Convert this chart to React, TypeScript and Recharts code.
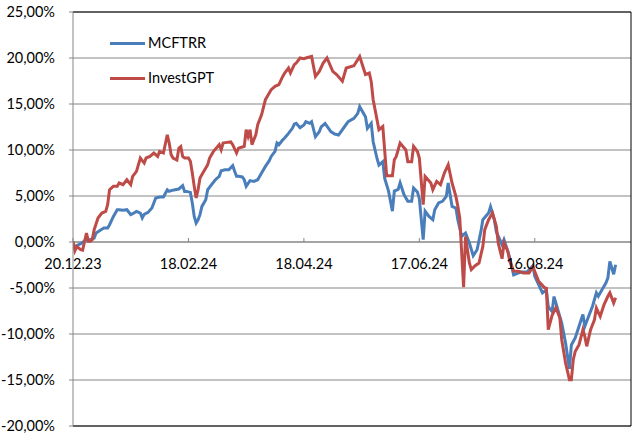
import { CartesianGrid, Line, LineChart, ReferenceLine, XAxis, YAxis } from "recharts";

// days since 20.12.23
const blueDays = [
  0, 2, 4, 5, 7, 9, 11, 12, 14, 16, 18, 19, 21, 23, 24, 26, 28, 30, 31, 33, 35, 36, 37, 39, 41, 43,
  45, 47, 49, 50, 51, 53, 55, 57, 58, 59, 61, 62, 63, 64, 65, 66, 67, 69, 70, 72, 74, 76, 77, 79,
  81, 83, 84, 85, 86, 88, 89, 90, 92, 94, 96, 98, 100, 102, 103, 105, 106, 107, 109, 110, 112, 114,
  115, 116, 118, 120, 121, 123, 124, 126, 128, 129, 131, 134, 136, 138, 141, 143, 146, 148, 149,
  152, 153, 155, 156, 158, 159, 161, 162, 164, 166, 167, 169, 170, 172, 174, 176, 177, 179, 180,
  182, 183, 185, 187, 188, 190, 192, 194, 195, 197, 199, 200, 202, 204, 206, 208, 210, 212, 213,
  216, 217, 219, 220, 223, 224, 226, 227, 229, 231, 233, 236, 239, 240, 242, 244, 246, 247, 249,
  250, 252, 254, 256, 258, 259, 261, 263, 265, 266, 268, 270, 272, 273, 275, 277, 278, 279, 281, 282,
];
const blueValues = [
  -0.48, -0.4, -0.18, -0.04, 0.25, 0.25, 0.43, 0.98, 1.26, 1.52, 1.52, 1.88, 2.78, 3.51, 3.51, 3.44,
  3.51, 2.97, 3.08, 3.33, 3.15, 2.61, 3.0, 3.22, 3.7, 4.78, 4.89, 4.89, 5.68, 5.5, 5.58, 5.68, 5.76,
  6.12, 5.5, 5.5, 5.39, 4.23, 2.78, 2.06, 2.42, 2.97, 3.87, 4.6, 5.68, 6.23, 6.77, 7.13, 7.75, 7.86,
  7.86, 8.3, 7.68, 7.14, 7.14, 7.07, 6.77, 6.05, 6.67, 6.59, 6.77, 7.5, 8.22, 8.84, 9.3, 9.85, 10.75,
  10.57, 11.1, 11.3, 11.81, 12.36, 12.8, 12.9, 12.43, 12.72, 13.08, 12.9, 13.08, 11.44, 11.98, 12.52,
  12.88, 12.0, 11.74, 11.63, 12.5, 13.08, 13.44, 13.98, 14.71, 13.62, 12.35, 12.9, 10.9, 9.08, 8.36,
  8.73, 6.91, 5.53, 3.35, 5.53, 5.71, 6.43, 5.16, 4.42, 4.42, 5.87, 5.43, 4.71, 0.25, 3.35, 2.78,
  2.42, 3.51, 4.24, 4.42, 4.96, 6.41, 3.87, 3.69, 2.42, 0.61, 0.98, -0.11, -1.49, -0.84, 1.15, 2.42,
  3.15, 3.83, 2.42, 1.12, -0.3, 0.25, -1.02, -1.74, -3.58, -3.4, -3.26, -3.26, -2.58, -3.73, -4.63,
  -5.53, -5.2, -7.02, -7.56, -5.93, -7.37, -8.81, -10.98, -13.78, -11.2, -10.43, -9.16, -7.88, -9.16,
  -8.07, -6.98, -5.53, -5.9, -5.16, -4.43, -3.89, -2.11, -3.51, -2.47,
];

const redDays = [
  0, 1, 2, 4, 5, 7, 8, 9, 10, 11, 13, 15, 17, 18, 19, 21, 23, 24, 26, 28, 30, 31, 33, 35, 37, 38,
  40, 42, 44, 45, 47, 49, 50, 51, 52, 54, 55, 56, 57, 58, 60, 61, 62, 63, 64, 65, 66, 68, 70, 71, 73,
  75, 76, 77, 78, 80, 82, 83, 85, 86, 88, 89, 90, 91, 92, 93, 95, 96, 98, 100, 102, 103, 105, 107,
  109, 110, 112, 113, 115, 116, 118, 120, 121, 124, 126, 128, 130, 132, 135, 137, 140, 142, 146,
  149, 152, 154, 155, 156, 158, 159, 161, 162, 163, 166, 167, 168, 170, 173, 174, 176, 177, 179,
  180, 182, 183, 186, 187, 189, 191, 193, 195, 197, 199, 200, 201, 203, 204, 206, 207, 209, 211,
  213, 214, 216, 218, 220, 221, 223, 224, 226, 227, 229, 232, 234, 237, 239, 240, 242, 245, 246,
  247, 249, 251, 253, 254, 256, 258, 259, 260, 261, 263, 265, 266, 267, 269, 271, 272, 274, 276, 278,
  279, 281, 282,
];
const redValues = [
  0.07, -0.95, -0.51, -0.84, -0.89, 0.98, 0.07, 0.07, 0.25, 1.34, 2.61, 3.15, 3.33, 4.05, 5.68, 6.05,
  6.05, 6.41, 6.23, 6.77, 6.23, 7.13, 7.68, 9.13, 8.58, 9.13, 9.3, 9.67, 9.3, 9.84, 9.67, 11.66, 10.75,
  9.49, 9.13, 8.91, 10.2, 10.38, 9.3, 9.13, 9.13, 8.77, 7.5, 6.05, 4.78, 5.68, 6.95, 7.68, 8.4, 9.13,
  9.85, 10.33, 10.58, 10.03, 10.76, 10.83, 10.88, 10.58, 9.67, 10.2, 10.33, 10.4, 12.2, 11.48, 12.2,
  10.58, 11.66, 12.75, 13.83, 15.47, 16.2, 16.55, 16.92, 17.1, 18.0, 18.37, 18.91, 18.37, 19.27,
  19.45, 20.0, 19.92, 20.0, 20.17, 18.0, 18.54, 19.45, 20.0, 18.54, 18.21, 17.48, 18.91, 19.16, 20.17,
  18.21, 18.37, 17.42, 15.47, 13.29, 12.2, 12.55, 9.92, 7.21, 7.21, 8.95, 9.3, 10.75, 10.0, 8.73,
  8.73, 10.39, 9.84, 9.13, 4.05, 7.13, 6.41, 5.68, 6.59, 6.23, 7.5, 8.4, 6.41, 4.96, 3.88, 2.61, -4.92,
  0.6, -2.28, -3.0, -2.57, -2.28, -0.48, 1.34, 2.43, 3.15, 1.71, -0.11, -1.82, -0.08, -1.02, -2.11,
  -3.15, -3.2, -3.37, -3.37, -2.65, -3.2, -4.28, -4.96, -5.03, -9.53, -7.97, -7.14, -8.23, -10.62,
  -13.15, -14.97, -14.97, -12.79, -11.9, -11.16, -9.53, -10.26, -11.34, -9.53, -8.45, -7.18, -8.08,
  -6.81, -5.9, -5.53, -6.62, -6.06,
];

const tickDays = [0, 60, 120, 180, 240];
const tickLabels = ["20.12.23", "18.02.24", "18.04.24", "17.06.24", "16.08.24"];
const yTicks = [-20, -15, -10, -5, 0, 5, 10, 15, 20, 25];
const lastDay = 290;

const blueData = blueDays.map((d, i) => ({ d, v: blueValues[i] }));
const redData = redDays.map((d, i) => ({ d, v: redValues[i] }));

const FONT = "Lato, 'Liberation Sans', sans-serif";
const FS = 14.5;
const GRID = "#868686";
const BLUE = "#4a7ebb";
const RED = "#be4b48";

const pct = (v: number) => `${v.toFixed(2).replace(".", ",")}%`;

export default function App() {
  return (
    <div style={{ position: "absolute", left: 0, top: 0, width: 638, height: 438, background: "#fff" }}>
      <LineChart width={638} height={438} margin={{ top: 12, right: 7, bottom: 12, left: 0 }}>
        <CartesianGrid vertical={false} stroke={GRID} />
        <XAxis type="number" dataKey="d" domain={[0, lastDay]} hide allowDataOverflow />
        <YAxis
          type="number"
          domain={[-20, 25]}
          ticks={yTicks}
          interval={0}
          width={73}
          tickFormatter={pct}
          axisLine={{ stroke: GRID }}
          tickLine={{ stroke: GRID }}
          tickSize={4}
          tickMargin={14}
          tick={{ fill: "#000", fontSize: FS, fontFamily: FONT }}
        />
        <ReferenceLine y={0} stroke={GRID} />
        {tickDays.map((d, i) => (
          <ReferenceLine
            key={d}
            segment={[
              { x: d, y: 0.43 },
              { x: d, y: 0 },
            ]}
            stroke={GRID}
            label={{
              value: tickLabels[i],
              position: "bottom",
              offset: 17,
              fill: "#000",
              fontSize: FS,
              fontFamily: FONT,
            }}
          />
        ))}
        <ReferenceLine y={25} stroke="#000" />
        <ReferenceLine y={-20} stroke="#000" />
        <ReferenceLine x={lastDay} stroke="#000" />
        <Line
          data={blueData}
          dataKey="v"
          name="MCFTRR"
          type="linear"
          stroke={BLUE}
          strokeWidth={3}
          dot={false}
          isAnimationActive={false}
        />
        <Line
          data={redData}
          dataKey="v"
          name="InvestGPT"
          type="linear"
          stroke={RED}
          strokeWidth={3}
          dot={false}
          isAnimationActive={false}
        />
      </LineChart>
      <div
        style={{
          position: "absolute",
          left: 110,
          top: 33,
          fontFamily: FONT,
          fontSize: FS,
          lineHeight: "20px",
        }}
      >
        {[
          ["MCFTRR", BLUE],
          ["InvestGPT", RED],
        ].map(([name, color], i) => (
          <div key={name} style={{ display: "flex", alignItems: "center", marginTop: i ? 15 : 0 }}>
            <span style={{ width: 35, height: 3, background: color, display: "inline-block", marginRight: 3 }} />
            <span>{name}</span>
          </div>
        ))}
      </div>
    </div>
  );
}
